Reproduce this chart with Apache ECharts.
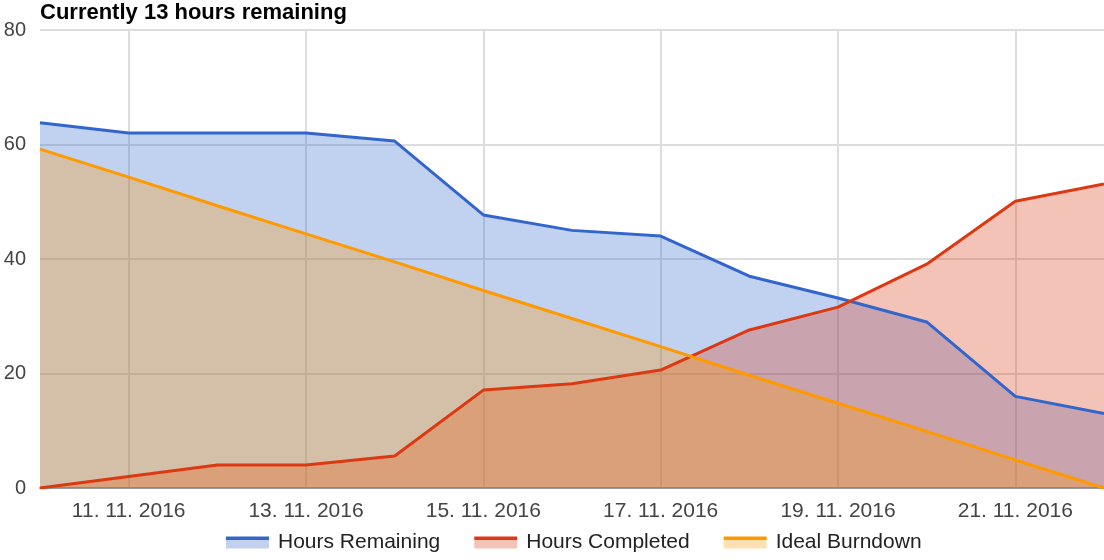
<!DOCTYPE html>
<html>
<head>
<meta charset="utf-8">
<title>Burndown</title>
<script src="https://cdn.jsdelivr.net/npm/echarts@6/dist/echarts.min.js"></script>
<style>
  html, body { margin: 0; padding: 0; background: #fff; }
  #chart { width: 1104px; height: 560px; }
</style>
</head>
<body>
<div id="chart"></div>
<script>
var days = ['10. 11. 2016', '11. 11. 2016', '12. 11. 2016', '13. 11. 2016', '14. 11. 2016',
  '15. 11. 2016', '16. 11. 2016', '17. 11. 2016', '18. 11. 2016', '19. 11. 2016',
  '20. 11. 2016', '21. 11. 2016', '22. 11. 2016'];
var hoursRemaining = [63.8, 62, 62, 62, 60.6, 47.7, 45, 44, 37, 33.2, 29, 16, 13];
var hoursCompleted = [0, 2, 4, 4, 5.6, 17.1, 18.2, 20.6, 27.6, 31.6, 39.1, 50.1, 53.1];
var idealBurndown = [59.2, 54.3, 49.3, 44.4, 39.5, 34.5, 29.6, 24.7, 19.7, 14.8, 9.9, 4.9, 0];
var yTicks = [0, 20, 40, 60, 80];

var names = ['Hours Remaining', 'Hours Completed', 'Ideal Burndown'];
var colors = ['#3366cc', '#dc3912', '#ff9900'];
var lightColors = ['#c2d1f0', '#f5c4b8', '#ffe0b3'];

var chart = echarts.init(document.getElementById('chart'));

// every second day gets a label and a grid line
function oddDay(i) { return i % 2 === 1; }

function mkSeries(i, data) {
  return {
    name: names[i],
    type: 'line',
    data: data,
    symbol: 'none',
    lineStyle: { color: colors[i], width: 3 },
    itemStyle: { color: colors[i] },
    areaStyle: { color: colors[i], opacity: 0.3 },
    animation: false
  };
}

// legend swatch: dark line on top, pale block below
function legendItem(i) {
  return {
    name: names[i],
    itemStyle: {
      color: new echarts.graphic.LinearGradient(0, 0, 0, 1, [
        { offset: 0, color: colors[i] },
        { offset: 0.28, color: colors[i] },
        { offset: 0.28, color: lightColors[i] },
        { offset: 1, color: lightColors[i] }
      ])
    }
  };
}

var option = {
  textStyle: { fontFamily: 'Liberation Sans, Arial, sans-serif' },
  title: {
    text: 'Currently 13 hours remaining',
    left: 40,
    top: 2,
    padding: 0,
    textStyle: { fontSize: 22, fontWeight: 'bold', color: '#000' }
  },
  legend: {
    bottom: 2,
    left: 221,
    itemWidth: 43,
    itemHeight: 12,
    itemGap: 34,
    icon: 'rect',
    textStyle: { fontSize: 21, color: '#222', padding: [0, 0, 0, 4] },
    data: [legendItem(0), legendItem(1), legendItem(2)]
  },
  grid: { left: 40, right: 0, top: 30, bottom: 72 },
  xAxis: {
    type: 'category',
    boundaryGap: false,
    data: days,
    axisLine: { show: true, lineStyle: { color: '#999', width: 2 } },
    axisTick: { show: false },
    axisLabel: { interval: oddDay, fontSize: 21, color: '#444', margin: 13 },
    splitLine: { show: true, interval: oddDay, lineStyle: { color: '#ddd', width: 2 } }
  },
  yAxis: {
    type: 'value',
    min: yTicks[0],
    max: yTicks[yTicks.length - 1],
    interval: 20,
    axisLine: { show: false },
    axisTick: { show: false },
    axisLabel: { fontSize: 20, color: '#444', margin: 14 },
    splitLine: { lineStyle: { color: '#ddd', width: 2 } }
  },
  series: [
    mkSeries(0, hoursRemaining),
    mkSeries(1, hoursCompleted),
    mkSeries(2, idealBurndown)
  ]
};
chart.setOption(option);
</script>
</body>
</html>
